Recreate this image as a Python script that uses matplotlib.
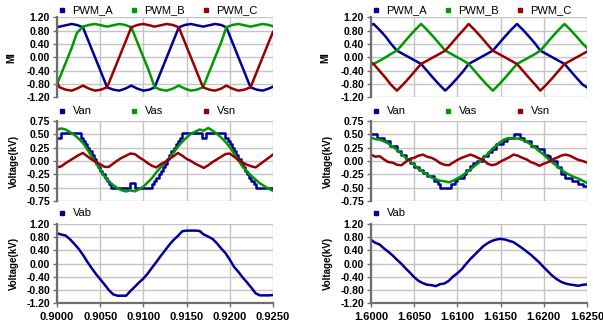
import numpy as np
import matplotlib
matplotlib.use("Agg")
import matplotlib.pyplot as plt
from matplotlib.ticker import FormatStrFormatter

plt.rcParams['font.family'] = ['Liberation Sans', 'DejaVu Sans']

BLUE = '#000099'
GREEN = '#009900'
RED = '#990000'
GRID = '#c4c4c4'
AXIS = '#6e6e6e'

# ---- top row: modulation index (MI) ----
t_pwm_l = [0.9000, 0.9003, 0.9010, 0.9017, 0.9023, 0.9030, 0.9037, 0.9044, 0.9051, 0.9058,
           0.9065, 0.9072, 0.9079, 0.9086, 0.9093, 0.9100, 0.9107, 0.9113, 0.9120, 0.9127,
           0.9134, 0.9141, 0.9148, 0.9155, 0.9162, 0.9169, 0.9176, 0.9183, 0.9190, 0.9196,
           0.9203, 0.9210, 0.9217, 0.9224, 0.9231, 0.9238, 0.9245, 0.9250]
pwm_a_l = [0.90, 0.92, 0.96, 1.00, 0.97, 0.90, 0.45, 0.00, -0.45, -0.90,
           -0.97, -1.00, -0.94, -0.85, -0.94, -1.00, -0.97, -0.90, -0.45, 0.00,
           0.45, 0.90, 0.97, 1.00, 0.96, 0.92, 0.96, 1.00, 0.97, 0.90,
           0.45, 0.00, -0.45, -0.90, -0.97, -1.00, -0.94, -0.88]
pwm_b_l = [-0.80, -0.62, -0.17, 0.28, 0.73, 0.92, 0.97, 1.00, 0.96, 0.92,
           0.96, 1.00, 0.97, 0.90, 0.45, 0.00, -0.45, -0.90, -0.97, -1.00,
           -0.94, -0.85, -0.94, -1.00, -0.97, -0.90, -0.45, 0.00, 0.45, 0.90,
           0.97, 1.00, 0.96, 0.92, 0.96, 1.00, 0.97, 0.93]
pwm_c_l = [-0.75, -0.90, -0.97, -1.00, -0.94, -0.85, -0.94, -1.00, -0.97, -0.90,
           -0.45, 0.00, 0.45, 0.90, 0.97, 1.00, 0.96, 0.92, 0.96, 1.00,
           0.97, 0.90, 0.45, 0.00, -0.45, -0.90, -0.97, -1.00, -0.94, -0.85,
           -0.94, -1.00, -0.97, -0.90, -0.45, 0.00, 0.45, 0.76]

t_pwm_r = [1.6000, 1.6003, 1.6010, 1.6017, 1.6023, 1.6030, 1.6037, 1.6044, 1.6051, 1.6058,
           1.6065, 1.6072, 1.6079, 1.6086, 1.6093, 1.6100, 1.6107, 1.6113, 1.6120, 1.6127,
           1.6134, 1.6141, 1.6148, 1.6155, 1.6162, 1.6169, 1.6176, 1.6183, 1.6190, 1.6196,
           1.6203, 1.6210, 1.6217, 1.6224, 1.6231, 1.6238, 1.6245, 1.6250]
pwm_a_r = [0.97, 1.00, 0.82, 0.62, 0.41, 0.20, 0.10, 0.00, -0.10, -0.20,
           -0.41, -0.62, -0.82, -1.00, -0.82, -0.62, -0.41, -0.20, -0.10, 0.00,
           0.10, 0.20, 0.41, 0.62, 0.82, 1.00, 0.82, 0.62, 0.41, 0.20,
           0.10, 0.00, -0.10, -0.20, -0.41, -0.62, -0.82, -0.90]
pwm_b_r = [-0.22, -0.20, -0.10, 0.00, 0.10, 0.20, 0.41, 0.62, 0.82, 1.00,
           0.82, 0.62, 0.41, 0.20, 0.10, 0.00, -0.10, -0.20, -0.41, -0.62,
           -0.82, -1.00, -0.82, -0.62, -0.41, -0.20, -0.10, 0.00, 0.10, 0.20,
           0.41, 0.62, 0.82, 1.00, 0.82, 0.62, 0.41, 0.28]
pwm_c_r = [-0.15, -0.20, -0.41, -0.62, -0.82, -1.00, -0.82, -0.62, -0.41, -0.20,
           -0.10, 0.00, 0.10, 0.20, 0.41, 0.62, 0.82, 1.00, 0.82, 0.62,
           0.41, 0.20, 0.10, 0.00, -0.10, -0.20, -0.41, -0.62, -0.82, -1.00,
           -0.82, -0.62, -0.41, -0.20, -0.10, 0.00, 0.10, 0.17]

# ---- sample times for the voltage traces ----
t_l = [0.9000, 0.9005, 0.9010, 0.9015, 0.9020, 0.9025, 0.9030, 0.9035, 0.9040, 0.9045,
       0.9050, 0.9055, 0.9060, 0.9065, 0.9070, 0.9075, 0.9080, 0.9085, 0.9090, 0.9095,
       0.9100, 0.9105, 0.9110, 0.9115, 0.9120, 0.9125, 0.9130, 0.9135, 0.9140, 0.9145,
       0.9150, 0.9155, 0.9160, 0.9165, 0.9170, 0.9175, 0.9180, 0.9185, 0.9190, 0.9195,
       0.9200, 0.9205, 0.9210, 0.9215, 0.9220, 0.9225, 0.9230, 0.9235, 0.9240, 0.9245,
       0.9250]
t_r = [1.6000, 1.6005, 1.6010, 1.6015, 1.6020, 1.6025, 1.6030, 1.6035, 1.6040, 1.6045,
       1.6050, 1.6055, 1.6060, 1.6065, 1.6070, 1.6075, 1.6080, 1.6085, 1.6090, 1.6095,
       1.6100, 1.6105, 1.6110, 1.6115, 1.6120, 1.6125, 1.6130, 1.6135, 1.6140, 1.6145,
       1.6150, 1.6155, 1.6160, 1.6165, 1.6170, 1.6175, 1.6180, 1.6185, 1.6190, 1.6195,
       1.6200, 1.6205, 1.6210, 1.6215, 1.6220, 1.6225, 1.6230, 1.6235, 1.6240, 1.6245,
       1.6250]

# ---- middle row: phase voltages (kV) ----
# Van is a staircase: (switch time, level)
van_t_l = [0.90000, 0.90050, 0.90275, 0.90300, 0.90325, 0.90350, 0.90375, 0.90400, 0.90425,
           0.90450, 0.90475, 0.90500, 0.90525, 0.90550, 0.90575, 0.90600, 0.90625, 0.90850,
           0.90900, 0.91100, 0.91125, 0.91150, 0.91175, 0.91200, 0.91225, 0.91250, 0.91275,
           0.91300, 0.91325, 0.91350, 0.91375, 0.91400, 0.91425, 0.91450, 0.91675, 0.91725,
           0.91950, 0.91975, 0.92000, 0.92025, 0.92050, 0.92075, 0.92100, 0.92125, 0.92150,
           0.92175, 0.92200, 0.92225, 0.92250, 0.92275, 0.92300, 0.92500]
van_l = [0.44, 0.52, 0.44, 0.38, 0.31, 0.25, 0.19, 0.12, 0.03,
         -0.06, -0.12, -0.19, -0.25, -0.31, -0.38, -0.44, -0.50, -0.41,
         -0.50, -0.44, -0.38, -0.31, -0.25, -0.19, -0.12, -0.06, 0.03,
         0.12, 0.19, 0.25, 0.31, 0.38, 0.44, 0.52, 0.44, 0.52,
         0.44, 0.38, 0.31, 0.25, 0.19, 0.12, 0.03, -0.06, -0.12,
         -0.19, -0.25, -0.31, -0.38, -0.44, -0.50, -0.50]
vas_l = [0.59, 0.61, 0.59, 0.54, 0.49, 0.42, 0.34, 0.22, 0.09, -0.03,
         -0.17, -0.29, -0.38, -0.45, -0.51, -0.55, -0.57, -0.55, -0.57, -0.53,
         -0.48, -0.40, -0.32, -0.21, -0.12, -0.03, 0.05, 0.16, 0.27, 0.36,
         0.44, 0.51, 0.55, 0.59, 0.57, 0.62, 0.57, 0.51, 0.44, 0.36,
         0.26, 0.14, 0.01, -0.11, -0.20, -0.28, -0.35, -0.42, -0.47, -0.52,
         -0.56]
vsn_l = [-0.12, -0.10, -0.04, 0.01, 0.06, 0.11, 0.15, 0.09, 0.03, -0.02,
         -0.06, -0.11, -0.11, -0.05, 0.01, 0.06, 0.10, 0.14, 0.13, 0.07,
         0.02, -0.04, -0.09, -0.12, -0.06, -0.02, 0.04, 0.09, 0.15, 0.10,
         0.04, 0.00, -0.05, -0.09, -0.13, -0.08, -0.02, 0.03, 0.08, 0.13,
         0.14, 0.08, 0.02, -0.03, -0.07, -0.10, -0.12, -0.06, 0.00, 0.06,
         0.12]

van_t_r = [1.60000, 1.60075, 1.60150, 1.60225, 1.60300, 1.60350, 1.60400, 1.60450, 1.60500,
           1.60550, 1.60600, 1.60650, 1.60725, 1.60775, 1.60800, 1.60925, 1.60975, 1.61000,
           1.61075, 1.61100, 1.61150, 1.61175, 1.61225, 1.61300, 1.61350, 1.61400, 1.61450,
           1.61525, 1.61575, 1.61650, 1.61725, 1.61775, 1.61850, 1.61925, 1.62000, 1.62050,
           1.62075, 1.62150, 1.62200, 1.62250, 1.62325, 1.62400, 1.62450, 1.62500]
van_r = [0.50, 0.44, 0.38, 0.28, 0.19, 0.12, 0.03, -0.03, -0.12,
         -0.16, -0.22, -0.28, -0.38, -0.44, -0.50, -0.44, -0.38, -0.31,
         -0.25, -0.16, -0.09, -0.03, 0.00, 0.09, 0.16, 0.22, 0.31,
         0.38, 0.44, 0.50, 0.44, 0.38, 0.28, 0.22, 0.12, 0.09,
         0.00, -0.12, -0.25, -0.31, -0.38, -0.44, -0.47, -0.47]
vas_r = [0.44, 0.41, 0.40, 0.37, 0.33, 0.27, 0.21, 0.14, 0.06, 0.00,
         -0.07, -0.15, -0.20, -0.26, -0.31, -0.34, -0.37, -0.38, -0.40, -0.37,
         -0.33, -0.28, -0.22, -0.16, -0.09, -0.03, 0.05, 0.13, 0.22, 0.29,
         0.36, 0.41, 0.43, 0.43, 0.42, 0.40, 0.36, 0.31, 0.25, 0.18,
         0.12, 0.04, -0.03, -0.09, -0.16, -0.22, -0.26, -0.30, -0.33, -0.37,
         -0.41]
vsn_r = [0.12, 0.08, 0.09, 0.03, -0.02, -0.03, -0.07, -0.08, -0.02, 0.04,
         0.06, 0.10, 0.12, 0.08, 0.06, 0.02, -0.04, -0.07, -0.08, -0.03,
         0.02, 0.06, 0.09, 0.12, 0.09, 0.05, 0.02, -0.05, -0.08, -0.06,
         -0.01, 0.03, 0.07, 0.12, 0.10, 0.06, 0.03, -0.02, -0.05, -0.09,
         -0.05, -0.02, 0.03, 0.06, 0.10, 0.12, 0.10, 0.06, 0.02, 0.00,
         -0.03]

# ---- bottom row: line voltage Vab (kV) ----
vab_l = [0.92, 0.88, 0.85, 0.74, 0.60, 0.45, 0.27, 0.06, -0.13, -0.31,
         -0.47, -0.63, -0.80, -0.93, -0.97, -0.97, -0.97, -0.83, -0.70, -0.57,
         -0.45, -0.30, -0.12, 0.05, 0.23, 0.40, 0.57, 0.72, 0.84, 0.98,
         1.00, 1.00, 1.00, 0.99, 0.88, 0.82, 0.75, 0.62, 0.46, 0.32,
         0.12, -0.10, -0.25, -0.42, -0.57, -0.73, -0.90, -0.96, -0.96, -0.96,
         -0.95]
vab_r = [0.72, 0.63, 0.58, 0.46, 0.36, 0.25, 0.12, 0.00, -0.14, -0.27,
         -0.41, -0.52, -0.59, -0.64, -0.65, -0.68, -0.62, -0.60, -0.52, -0.39,
         -0.29, -0.17, -0.01, 0.14, 0.27, 0.40, 0.53, 0.62, 0.69, 0.73,
         0.75, 0.73, 0.69, 0.65, 0.56, 0.47, 0.37, 0.27, 0.15, 0.03,
         -0.11, -0.24, -0.37, -0.47, -0.55, -0.60, -0.63, -0.65, -0.67, -0.64,
         -0.63]

xticks_l = [0.9000, 0.9050, 0.9100, 0.9150, 0.9200, 0.9250]
xticks_r = [1.6000, 1.6050, 1.6100, 1.6150, 1.6200, 1.6250]
mi_ticks = [-1.2, -0.8, -0.4, 0.0, 0.4, 0.8, 1.2]
v_ticks = [-0.75, -0.5, -0.25, 0.0, 0.25, 0.5, 0.75]

W, H = 603.0, 330.0
fig = plt.figure(figsize=(6.03, 3.30), dpi=100)


def make_ax(x0, ytop, ybot):
    return fig.add_axes([x0 / W, 1 - ybot / H, 216 / W, (ybot - ytop) / H])


def style(ax, xticks, yticks, ylabel, bottom, label_x):
    ax.set_xlim(xticks[0], xticks[-1])
    ax.set_ylim(yticks[0], yticks[-1])
    ax.set_xticks(xticks)
    ax.set_yticks(yticks)
    ax.yaxis.set_major_formatter(FormatStrFormatter('%.2f'))
    ax.xaxis.set_major_formatter(FormatStrFormatter('%.4f'))
    ax.set_axisbelow(True)
    ax.grid(True, color=GRID, lw=1.0)
    for s in ['top', 'right']:
        ax.spines[s].set_visible(False)
    ax.spines['left'].set_color(AXIS)
    ax.spines['left'].set_linewidth(1.6)
    ax.tick_params(axis='y', length=3, width=1, color=AXIS, pad=2, labelsize=7.5)
    for lab in ax.get_yticklabels():
        lab.set_fontweight('bold')
    if bottom:
        ax.spines['bottom'].set_color(AXIS)
        ax.spines['bottom'].set_linewidth(1.6)
        ax.tick_params(axis='x', length=3, width=1, color=AXIS, pad=3, labelsize=8)
        for lab in ax.get_xticklabels():
            lab.set_fontweight('bold')
    else:
        ax.spines['bottom'].set_visible(False)
        ax.tick_params(axis='x', length=0, labelbottom=False)
    ax.set_ylabel(ylabel, fontsize=7, fontweight='bold')
    ax.yaxis.set_label_coords(label_x, 0.5)


def legend(ax, labels, colors, y):
    for n, (lab, col) in enumerate(zip(labels, colors)):
        x = (5 + 72 * n) / 216
        ax.plot([x], [y], marker='s', ms=3.2, color=col, ls='none',
                transform=ax.transAxes, clip_on=False)
        ax.text(x + 10.5 / 216, y, lab, transform=ax.transAxes, ha='left',
                va='center', fontsize=8)


lw = 1.8
for x0, xt, tp, pa, pb, pc, vt, van, vas, vsn, tv, vab in [
        (57, xticks_l, t_pwm_l, pwm_a_l, pwm_b_l, pwm_c_l, van_t_l, van_l, vas_l, vsn_l, t_l, vab_l),
        (371, xticks_r, t_pwm_r, pwm_a_r, pwm_b_r, pwm_c_r, van_t_r, van_r, vas_r, vsn_r, t_r, vab_r)]:
    ax1 = make_ax(x0, 17.3, 97.3)
    ax1.plot(tp, pa, color=BLUE, lw=lw)
    ax1.plot(tp, pb, color=GREEN, lw=lw)
    ax1.plot(tp, pc, color=RED, lw=lw)
    style(ax1, xt, mi_ticks, 'MI', False, -0.19)
    legend(ax1, ['PWM_A', 'PWM_B', 'PWM_C'], [BLUE, GREEN, RED], 1.09)

    ax2 = make_ax(x0, 121, 201)
    ax2.step(vt, van, where='post', color=BLUE, lw=lw)
    ax2.plot(tv, vas, color=GREEN, lw=lw)
    ax2.plot(tv, vsn, color=RED, lw=lw)
    style(ax2, xt, v_ticks, 'Voltage(kV)', False, -0.178)
    legend(ax2, ['Van', 'Vas', 'Vsn'], [BLUE, GREEN, RED], 1.125)

    ax3 = make_ax(x0, 224, 303.3)
    ax3.plot(tv, vab, color=BLUE, lw=lw)
    style(ax3, xt, mi_ticks, 'Voltage(kV)', True, -0.178)
    legend(ax3, ['Vab'], [BLUE], 1.14)

fig.savefig('out.png', dpi=100)
